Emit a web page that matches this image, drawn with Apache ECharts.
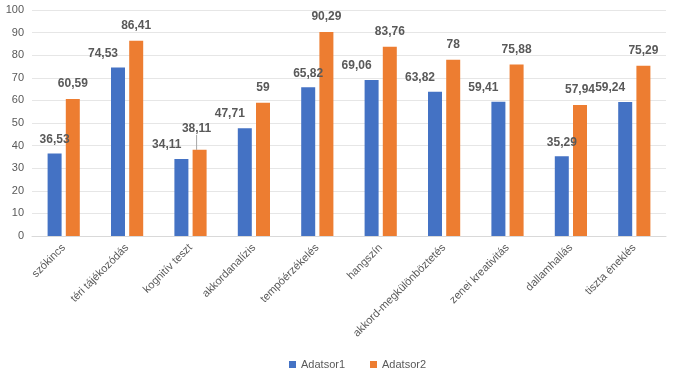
<!DOCTYPE html>
<html><head><meta charset="utf-8">
<script src="https://cdn.jsdelivr.net/npm/echarts@6/dist/echarts.min.js"></script>
<style>html,body{margin:0;padding:0;background:#fff}#c{width:675px;height:378px}</style>
</head><body><div id="c"></div>
<script>
const categories = ["szókincs","téri tájékozódás","kognitív teszt","akkordanalízis","tempóérzékelés","hangszín","akkord-megkülönböztetés","zenei kreativitás","dallamhallás","tiszta éneklés"];
const adatsor1 = [36.53,74.53,34.11,47.71,65.82,69.06,63.82,59.41,35.29,59.24];
const adatsor2 = [60.59,86.41,38.11,59,90.29,83.76,78,75.88,57.94,75.29];
const yTicks = [0,10,20,30,40,50,60,70,80,90,100];

const fmt = v => String(v).replace('.', ',');
const FONT = 'Liberation Sans, Arial, sans-serif';
const labelColor = '#595959';

// blue labels: centred when well below the orange bar, otherwise nudged left
const d1 = adatsor1.map((v,i) => {
  const far = adatsor2[i] - v > 20;
  return far ? {value: v, label: {align: 'center', offset: [0, 0]}} : v;
});
const d2 = adatsor2.map((v,i) => {
  const close = Math.abs(v - adatsor1[i]) < 5;
  return close ? {value: v, labelLine: {show: true, lineStyle:{color:'#a6a6a6', width:1}}} : v;
});

const chart = echarts.init(document.getElementById('c'), null, {renderer:'canvas'});
chart.setOption({
  animation: false,
  grid: {left: 32, right: 9, top: 10, bottom: 142, containLabel: false},
  legend: {
    bottom: 3, left: 284, itemWidth: 7, itemHeight: 7, itemGap: 25,
    icon: 'rect',
    textStyle: {color: labelColor, fontSize: 11, fontFamily: FONT},
    data: ['Adatsor1','Adatsor2']
  },
  xAxis: {
    type: 'category', data: categories,
    axisLine: {lineStyle: {color: '#d9d9d9'}},
    axisTick: {show: false},
    axisLabel: {rotate: 45, color: labelColor, fontSize: 11, fontFamily: FONT, interval: 0, margin: 10}
  },
  yAxis: {
    type: 'value', min: yTicks[0], max: yTicks[yTicks.length-1], interval: 10,
    axisLine: {show: false}, axisTick: {show: false},
    splitLine: {lineStyle: {color: '#e6e6e6'}},
    axisLabel: {color: labelColor, fontSize: 11, fontFamily: FONT, margin: 8}
  },
  series: [
    {
      name: 'Adatsor1', type: 'bar', data: d1, barWidth: 14, barGap: '30%',
      itemStyle: {color: '#4472C4'},
      label: {show: true, position: 'top', distance: 8, align: 'right', offset: [7, 0],
        color: labelColor, fontWeight: 'bold', fontSize: 12, fontFamily: FONT,
        formatter: p => fmt(p.value)}
    },
    {
      name: 'Adatsor2', type: 'bar', data: d2, barWidth: 14,
      itemStyle: {color: '#ED7D31'},
      label: {show: true, position: 'top', distance: 9,
        color: labelColor, fontWeight: 'bold', fontSize: 12, fontFamily: FONT,
        formatter: p => fmt(p.value)}
    }
  ],
  labelLayout: function (p) {
    if (p.seriesIndex === 1 && Math.abs(adatsor2[p.dataIndex] - adatsor1[p.dataIndex]) < 5) {
      return {dy: -6, dx: -3};
    }
  }
});
</script></body></html>
